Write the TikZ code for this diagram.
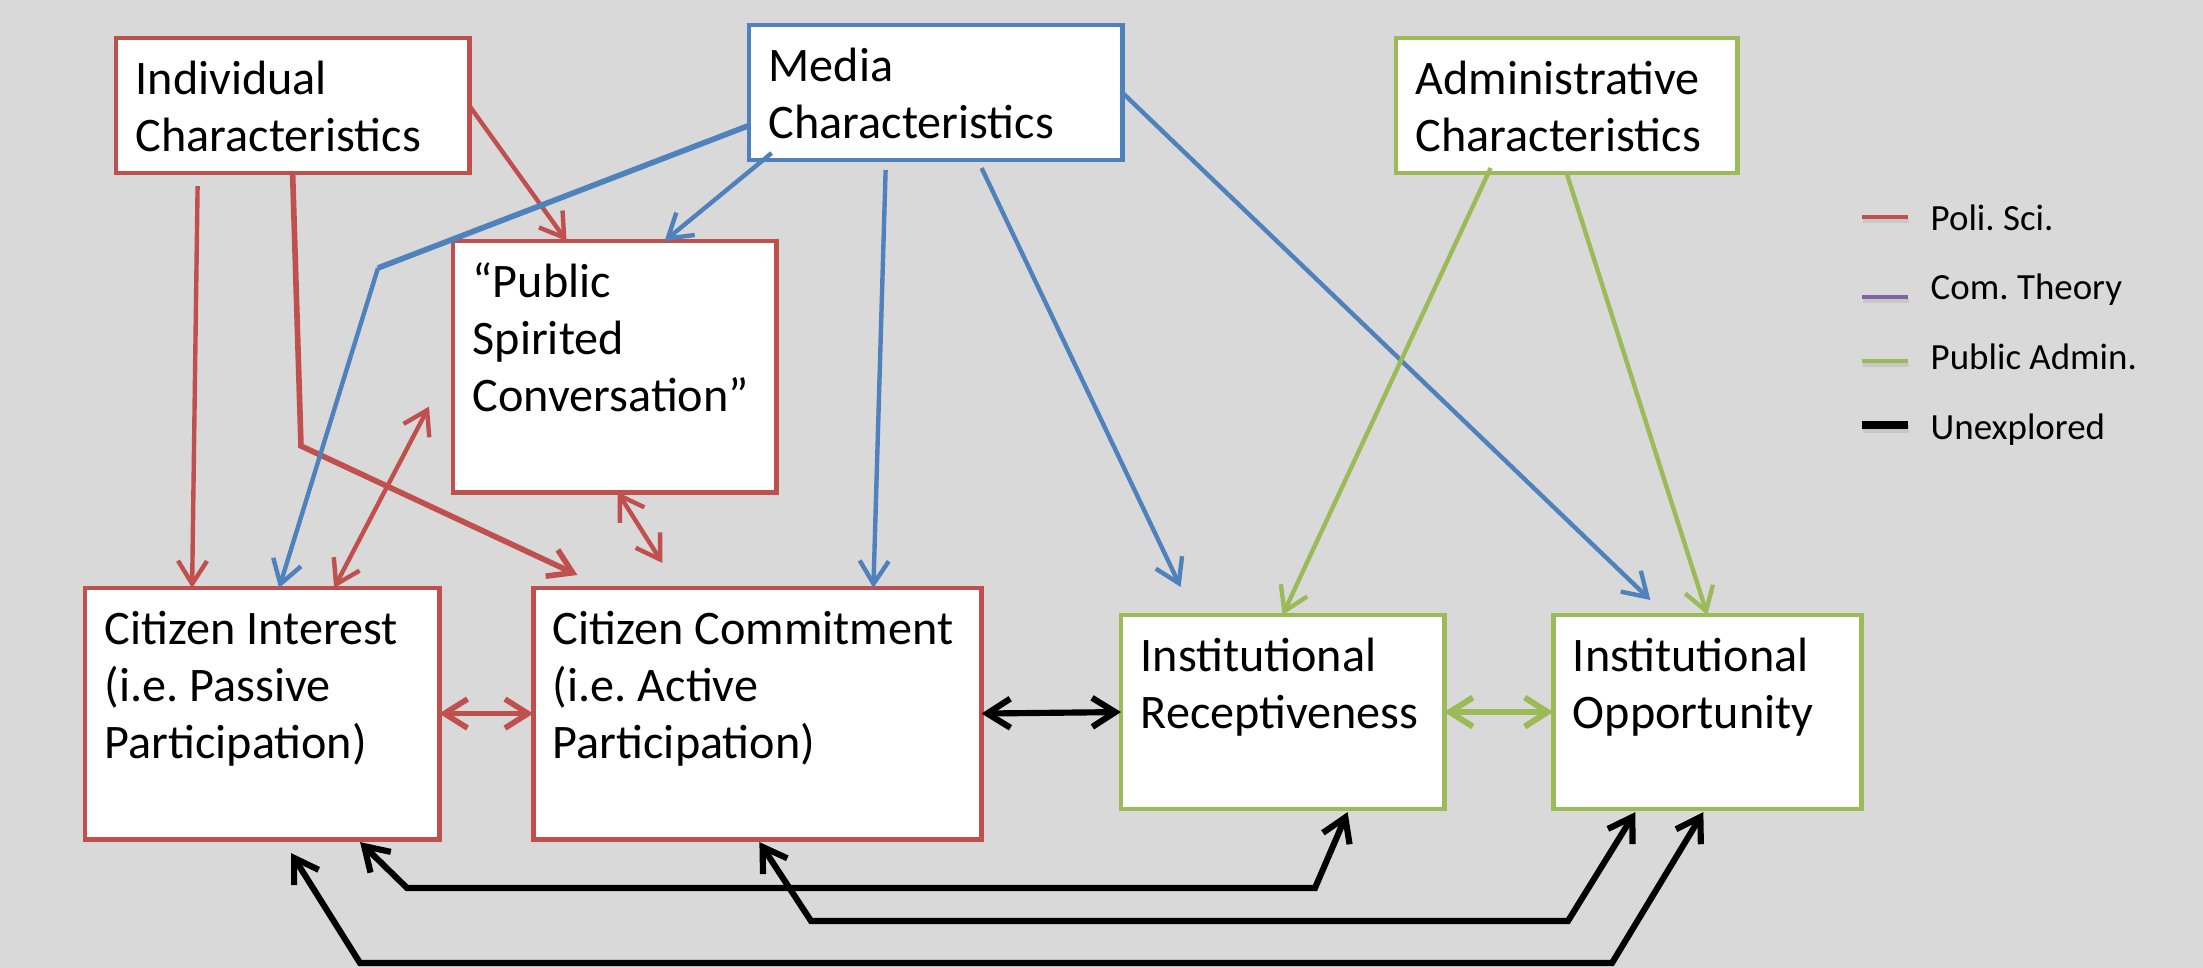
\documentclass[tikz,border=0pt]{standalone}
\usepackage{fontspec}
\setmainfont{Carlito}
\usetikzlibrary{positioning,arrows.meta,calc}
\definecolor{polisci}{HTML}{C0504D}
\definecolor{media}{HTML}{4F81BD}
\definecolor{admin}{HTML}{9BBB59}
\definecolor{comth}{HTML}{8064A2}
\definecolor{panel}{HTML}{D9D9D9}
\frenchspacing

\begin{document}
\begin{tikzpicture}[x=0.01cm, y=-0.01cm, >={Straight Barb[length=2.3mm, width=2.9mm]},
      box/.style={draw, fill=white, line width=1.35pt, outer sep=0pt, inner sep=0pt,
                  anchor=north west},
      txt/.style={anchor=north west, align=left, inner xsep=1.9mm, inner ysep=1.55mm,
                  font=\fontsize{13.7}{16.2}\selectfont},
      key/.style={anchor=base west, inner sep=0pt, font=\fontsize{10.5}{12}\selectfont},
      pl/.style={polisci, line width=1.25pt, ->},
      ml/.style={media, line width=1.25pt, ->},
      al/.style={admin, line width=1.25pt, ->},
      ul/.style={black, line width=1.75pt, <->}]
    \useasboundingbox (0,0) rectangle (2203,968);
    \fill[panel] (0,0) rectangle (2203,968);
    % top row
    \node[box, draw=polisci, minimum width=3.53cm, minimum height=1.35cm] (ind) at (116,38)
      [label={[txt]north west:{\strut Individual\\Characteristics}}] {};
    \node[box, draw=media, minimum width=3.73cm, minimum height=1.35cm] (med) at (749,25)
      [label={[txt]north west:{\strut Media\\Characteristics}}] {};
    \node[box, draw=admin, minimum width=3.41cm, minimum height=1.35cm] (adm) at (1396,38)
      [label={[txt]north west:{\strut Administrative\\Characteristics}}] {};
    \node[box, draw=polisci, minimum width=3.23cm, minimum height=2.51cm] (psc) at (453,241)
      [label={[txt]north west:{\strut ``Public\\Spirited\\Conversation''}}] {};
    % bottom row
    \node[box, draw=polisci, minimum width=3.54cm, minimum height=2.51cm] (ci) at (85,588)
      [label={[txt]north west:{\strut Citizen Interest\\(i.e. Passive\\Participation)}}] {};
    \node[box, draw=polisci, minimum width=4.48cm, minimum height=2.51cm, right=0.94cm of ci] (cc)
      [label={[txt]north west:{\strut Citizen Commitment\\(i.e. Active\\Participation)}}] {};
    \node[box, draw=admin, minimum width=3.23cm, minimum height=1.94cm] (ir) at (1121,615)
      [label={[txt]north west:{\strut Institutional\\Receptiveness}}] {};
    \node[box, draw=admin, minimum width=3.08cm, minimum height=1.94cm, right=1.09cm of ir] (io)
      [label={[txt]north west:{\strut Institutional\\Opportunity}}] {};
    % legend
    \foreach \ly/\ty/\c/\w/\t [count=\i] in {217/231/polisci/1.4/Poli. Sci.,
        297/300/comth/1.4/Com. Theory, 361/370/admin/1.4/Public Admin.,
        425/440/black/2.2/Unexplored} {
      \draw[black!22, line width=\w pt] (1863,\ly+4) -- (1909,\ly+4);
      \draw[\c, line width=\w pt] (1862,\ly) -- (1908,\ly);
      \node[key] (key\i) at (1930,\ty) {\t};
    }
    % bends
    \coordinate (kneeA) at (301,446);
    \coordinate (kneeB) at (378,268);
    \coordinate (r1a) at (407,888); \coordinate (r1b) at (1315,888);
    \coordinate (r2a) at (811,921); \coordinate (r2b) at (1568,921);
    \coordinate (r3a) at (360,963); \coordinate (r3b) at (1612,963);
    % poli. sci.
    \draw[pl] ($(ind.south)+(-95,13)$) -- ($(ci.north)+(-70,0)$);
    \draw[pl, line width=1.6pt] (ind.south) -- (kneeA) -- ($(cc.north)+(-180,-13)$);
    \draw[pl] (ind.east) -- ($(psc.north)+(-48,0)$);
    \draw[pl, <->] ($(ci.north)+(72,0)$) -- ($(psc.west)+(-24,40)$);
    \draw[pl, <->] ($(psc.south)+(3,0)$) -- ($(cc.north)+(-95,-25)$);
    \draw[pl, <->, line width=1.6pt] (ci.east) -- (cc.west);
    % media
    \draw[media, line width=1.6pt] ($(med.west)+(0,33)$) -- (kneeB);
    \draw[ml] (kneeB) -- ($(ci.north)+(17,0)$);
    \draw[ml] ($(med.south)+(-164,-7)$) -- ($(psc.north)+(50,0)$);
    \draw[ml] ($(med.south)+(-50,10)$) -- ($(cc.north)+(116,0)$);
    \draw[ml] ($(med.south)+(46,8)$) -- ($(ir.north)+(-102,-28)$);
    \draw[ml] (med.east) -- ($(io.north)+(-57,-15)$);
    % admin
    \draw[al] ($(adm.south)+(-76,-5)$) -- (ir.north);
    \draw[al] (adm.south) -- (io.north);
    \draw[al, <->, line width=1.7pt] (ir.east) -- (io.west);
    % unexplored
    \draw[ul] (cc.east) -- (ir.west);
    \draw[ul] ($(ci.south)+(98,3)$) -- (r1a) -- (r1b) -- ($(ir.south)+(65,3)$);
    \draw[ul] ($(cc.south)+(2,3)$) -- (r2a) -- (r2b) -- ($(io.south)+(-72,3)$);
    \draw[ul] ($(ci.south)+(29,14)$) -- (r3a) -- (r3b) -- ($(io.south)+(-4,3)$);
  \end{tikzpicture}
\end{document}
